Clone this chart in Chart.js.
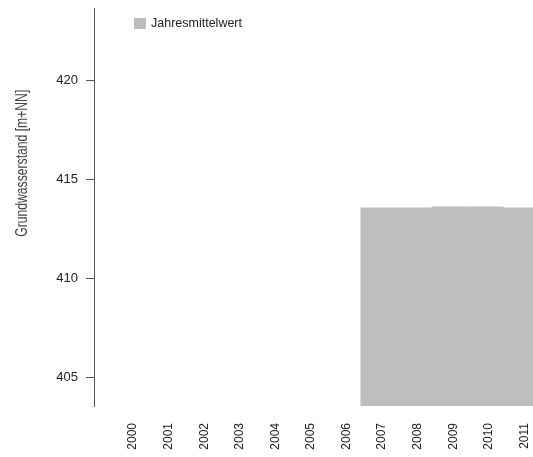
<!DOCTYPE html>
<html>
<head>
<meta charset="utf-8">
<script src="https://cdn.jsdelivr.net/npm/chart.js@4"></script>
<style>
    html, body { margin: 0; padding: 0; background: #fff; }
    #wrap { width: 533px; height: 457px; }
</style>
</head>
<body>
<div id="wrap"><canvas id="gwChart" width="533" height="457"></canvas></div>
<script>
// Data
const years = [2000, 2001, 2002, 2003, 2004, 2005, 2006, 2007, 2008, 2009, 2010, 2011];
const annualMean = [null, null, null, null, null, null, null, 413.55, 413.55, 413.6, 413.6, 413.55];
const yTicks = [405, 410, 415, 420];
const seriesLabel = 'Jahresmittelwert';
const yTitle = 'Grundwasserstand [m+NN]';

const barColor = '#bebebe';
const axisColor = '#555';
const textColor = '#222';
const baseFont = '"Liberation Sans", Arial, sans-serif';

// Y title + legend drawn R-style inside the plot
const rStylePlugin = {
    id: 'rStyle',
    afterDraw(chart) {
        const { ctx, chartArea } = chart;
        const h = chartArea.bottom - chartArea.top;

        // axis title (squeezed a bit like the original font)
        ctx.save();
        ctx.translate(23, chartArea.top + h * 0.39);
        ctx.rotate(-Math.PI / 2);
        ctx.font = '16px ' + baseFont;
        ctx.fillStyle = '#444';
        ctx.textAlign = 'center';
        ctx.textBaseline = 'middle';
        ctx.fillText(yTitle, 0, 0, 147);
        ctx.restore();

        // legend
        const lx = chartArea.left + 40;
        const ly = chartArea.top + 10;
        ctx.save();
        ctx.fillStyle = barColor;
        ctx.fillRect(lx, ly, 12, 11);
        ctx.font = '12.5px ' + baseFont;
        ctx.fillStyle = textColor;
        ctx.textAlign = 'left';
        ctx.textBaseline = 'middle';
        ctx.fillText(chart.data.datasets[0].label, lx + 17, ly + 6);
        ctx.restore();
    }
};

function initChart() {
    const ctx = document.getElementById('gwChart').getContext('2d');
    new Chart(ctx, {
        type: 'bar',
        data: {
            datasets: [{
                label: seriesLabel,
                data: years.map((y, i) => ({ x: y, y: annualMean[i] })),
                backgroundColor: barColor,
                borderWidth: 0,
                categoryPercentage: 1.0,
                barPercentage: 1.0
            }]
        },
        options: {
            responsive: false,
            animation: false,
            layout: { padding: { top: 8, right: 0, bottom: 0, left: 0 } },
            plugins: {
                legend: { display: false },
                tooltip: { enabled: false }
            },
            scales: {
                x: {
                    type: 'linear',
                    offset: false,
                    min: 1999,
                    max: 2011.34,
                    afterBuildTicks: (scale) => {
                        scale.ticks = years.map(v => ({ value: v }));
                    },
                    afterFit: (scale) => {
                        scale.height = 51;
                        scale.paddingLeft = 0;
                        scale.paddingRight = 0;
                    },
                    grid: { display: false, drawTicks: false, offset: false },
                    border: { display: false },
                    ticks: {
                        autoSkip: false,
                        minRotation: 90,
                        maxRotation: 90,
                        padding: 17,
                        labelOffset: 3.5,
                        color: textColor,
                        font: { family: baseFont, size: 12 },
                        callback: (v) => String(v)
                    }
                },
                y: {
                    type: 'linear',
                    min: 403.54,
                    max: 423.64,
                    afterBuildTicks: (scale) => {
                        scale.ticks = yTicks.map(v => ({ value: v }));
                    },
                    afterFit: (scale) => {
                        scale.width = 94;
                        scale.paddingTop = 0;
                        scale.paddingBottom = 0;
                    },
                    grid: {
                        drawOnChartArea: false,
                        drawTicks: true,
                        tickLength: 8,
                        color: axisColor,
                        lineWidth: 1
                    },
                    border: { display: true, color: axisColor, width: 1 },
                    ticks: {
                        padding: 8,
                        color: textColor,
                        font: { family: baseFont, size: 13 },
                        callback: (v) => String(v)
                    }
                }
            }
        },
        plugins: [rStylePlugin]
    });
}

initChart();
</script>
</body>
</html>
